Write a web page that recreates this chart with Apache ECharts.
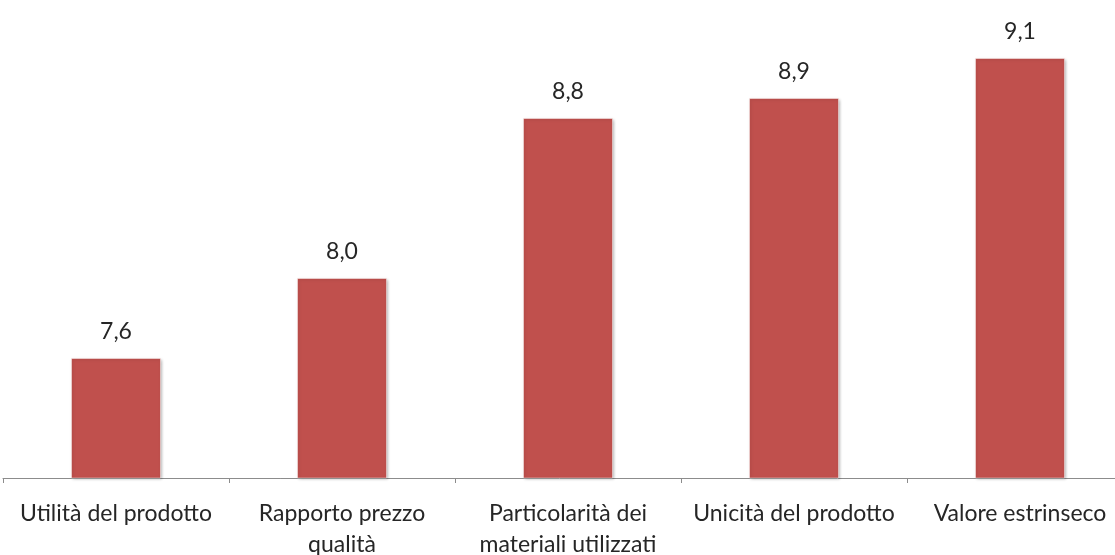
<!DOCTYPE html>
<html>
<head>
<meta charset="utf-8">
<script src="https://cdn.jsdelivr.net/npm/echarts@6/dist/echarts.min.js"></script>
<style>
  html, body { margin: 0; padding: 0; background: #ffffff; }
  #chart { width: 1115px; height: 555px; }
</style>
</head>
<body>
<div id="chart"></div>
<script>
// Categorie e punteggi medi
const categories = [
  'Utilità del prodotto',
  'Rapporto prezzo\nqualità',
  'Particolarità dei\nmateriali utilizzati',
  'Unicità del prodotto',
  'Valore estrinseco'
];
const scores = [7.6, 8.0, 8.8, 8.9, 9.1];

const chart = echarts.init(document.getElementById('chart'));
const font = 'Lato, "Open Sans", sans-serif';

chart.setOption({
  animation: false,
  grid: { left: 3, width: 1130, top: 38, bottom: 77, outerBoundsMode: 'none', containLabel: false },
  xAxis: {
    type: 'category',
    data: categories,
    axisLine: { lineStyle: { color: '#8c8c8c', width: 1 } },
    axisTick: { show: true, inside: false, length: 5, lineStyle: { color: '#8c8c8c' } },
    axisLabel: {
      interval: 0,
      margin: 20,
      color: '#262626',
      fontFamily: font,
      fontSize: 23,
      lineHeight: 31
    }
  },
  yAxis: {
    type: 'value',
    min: 7,
    max: 9.2,
    show: false,
    splitLine: { show: false }
  },
  series: [{
    type: 'bar',
    data: scores,
    barWidth: 90,
    itemStyle: {
      color: '#C0504D',
      borderColor: 'rgba(255,255,255,0.45)',
      borderWidth: 1,
      shadowColor: 'rgba(0,0,0,0.3)',
      shadowBlur: 3,
      shadowOffsetX: 1,
      shadowOffsetY: 1
    },
    label: {
      show: true,
      position: 'top',
      distance: 15,
      color: '#262626',
      fontFamily: font,
      fontSize: 23,
      formatter: p => p.value.toFixed(1).replace('.', ',')
    }
  }]
});
</script>
</body>
</html>
